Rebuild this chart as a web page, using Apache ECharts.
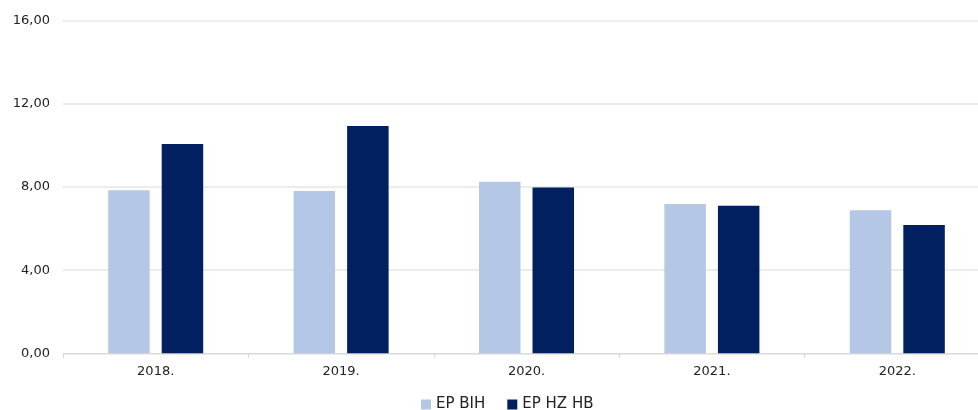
<!DOCTYPE html>
<html>
<head>
<meta charset="utf-8">
<script src="https://cdn.jsdelivr.net/npm/echarts@6/dist/echarts.min.js"></script>
<style>
  html, body { margin: 0; padding: 0; background: #fff; }
  #chart { width: 978px; height: 410px; }
</style>
</head>
<body>
<div id="chart"></div>
<script>
// podaci
const years = ['2018.', '2019.', '2020.', '2021.', '2022.'];
const epBih = [7.84, 7.81, 8.25, 7.18, 6.88];
const epHzHb = [10.07, 10.93, 7.98, 7.10, 6.17];

const fmt = v => v.toFixed(2).replace('.', ',');
const FONT = '"DejaVu Sans", sans-serif';

const chart = echarts.init(document.getElementById('chart'));
chart.setOption({
    animation: false,
    legend: {
        left: 421,
        top: 397,
        padding: 0,
        itemWidth: 10,
        itemHeight: 10,
        itemGap: 22,
        icon: 'rect',
        textStyle: { color: '#222', fontSize: 15, fontFamily: FONT },
        data: ['EP BIH', 'EP HZ HB']
    },
    grid: {
        left: 63,
        top: 20.7,
        bottom: 56.7,
        width: 927,
        outerBoundsMode: 'none'
    },
    xAxis: {
        type: 'category',
        data: years,
        axisLine: { lineStyle: { color: '#d9d9d9' } },
        axisTick: { show: true, length: 5, lineStyle: { color: '#d9d9d9' } },
        axisLabel: { color: '#222', fontSize: 13, fontFamily: FONT, margin: 12 }
    },
    yAxis: {
        type: 'value',
        min: 0,
        max: 16,
        interval: 4,
        axisLine: { show: false },
        axisTick: { show: false },
        axisLabel: { color: '#222', fontSize: 13, fontFamily: FONT, margin: 13, formatter: fmt },
        splitLine: { lineStyle: { color: '#e6e6e6', width: 1.5 } }
    },
    series: [
        {
            name: 'EP BIH',
            type: 'bar',
            data: epBih,
            barWidth: 41.5,
            barGap: '29%',
            itemStyle: { color: '#b4c7e7' }
        },
        {
            name: 'EP HZ HB',
            type: 'bar',
            data: epHzHb,
            barWidth: 41.5,
            itemStyle: { color: '#002060' }
        }
    ]
});
</script>
</body>
</html>
